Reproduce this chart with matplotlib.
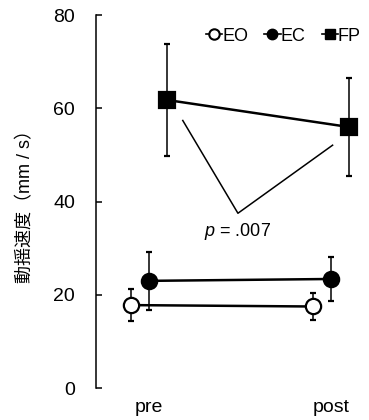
import numpy as np
import matplotlib.pyplot as plt
from matplotlib.lines import Line2D

plt.rcParams['font.family'] = ['Liberation Sans', 'Noto Sans CJK JP']
plt.rcParams['mathtext.fontset'] = 'custom'
plt.rcParams['mathtext.it'] = 'Liberation Sans:italic'
plt.rcParams['mathtext.rm'] = 'Liberation Sans'

# data
phases = ["pre", "post"]
eo_mean = [17.8, 17.5]
eo_sd = [3.5, 3.0]
ec_mean = [23.0, 23.4]
ec_sd = [6.2, 4.7]
fp_mean = [61.8, 56.0]
fp_sd = [12.0, 10.6]

x = np.arange(len(phases))
off = 0.1

fig = plt.figure(figsize=(3.69, 4.2), dpi=100)
ax = fig.add_axes([0.260, 0.076, 0.740, 0.888])

series = [
    (eo_mean, eo_sd, -off, 'o', 'white'),
    (ec_mean, ec_sd, 0.0, 'o', 'black'),
    (fp_mean, fp_sd, off, 's', 'black'),
]
for mean, sd, dx, mk, fc in series:
    ax.errorbar(x + dx, mean, yerr=sd, color='black', lw=1.8, marker=mk,
                ms=11 if mk == 'o' else 11.5, mfc=fc, mec='black', mew=1.6,
                ecolor='black', elinewidth=1.1, capsize=2.5, capthick=1.1,
                zorder=3)

# significance bracket between FP pre and post
ax.plot([0.187, 0.49, 1.01], [57.4, 37.5, 52.1], color='black', lw=1.1)
ax.text(0.49, 33.6, r'$p$ = .007', ha='center', va='center', fontsize=13)

handles = [
    Line2D([], [], color='black', marker='o', mfc='white', mec='black', ms=7.5, mew=1.5, lw=1.2),
    Line2D([], [], color='black', marker='o', mfc='black', mec='black', ms=7.5, lw=1.2),
    Line2D([], [], color='black', marker='s', mfc='black', mec='black', ms=7.5, lw=1.2),
]
ax.legend(handles, ["EO", "EC", "FP"], loc='upper right', bbox_to_anchor=(1.01, 0.995),
          ncol=3, frameon=False, handlelength=0.9, handletextpad=0.0,
          columnspacing=0.9, fontsize=13, borderaxespad=0.2)

ax.set_xlim(-0.29, 1.21)
ax.set_ylim(0, 80)
ax.set_yticks([0, 20, 40, 60, 80])
ax.set_xticks(x)
ax.set_xticklabels(phases)
ax.tick_params(axis='y', direction='in', length=4, width=1.1, pad=15, labelsize=14)
ax.tick_params(axis='x', length=0, pad=8, labelsize=14)
for s in ['top', 'right', 'bottom']:
    ax.spines[s].set_visible(False)
ax.spines['left'].set_linewidth(1.1)
ax.set_ylabel('動揺速度（mm / s）', fontsize=13, labelpad=14)

fig.savefig('out.png', dpi=100)
